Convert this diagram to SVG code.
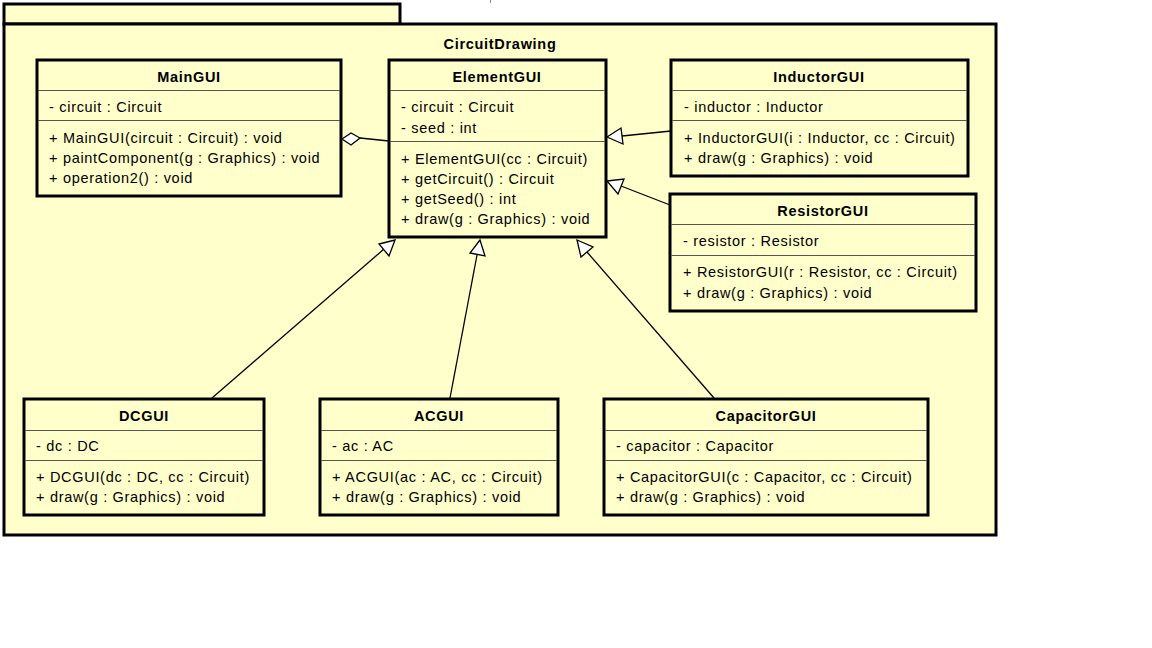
<svg xmlns="http://www.w3.org/2000/svg" width="1152" height="648" viewBox="0 0 1152 648">
<style>
.pkg{fill:#ffffcc;stroke:#000;stroke-width:3}
.box{fill:#ffffcc;stroke:#000;stroke-width:3}
.sep{stroke:#555;stroke-width:1;fill:none}
.t{font-family:"Liberation Sans",Arial,sans-serif;font-size:14.5px;letter-spacing:0.7px;fill:#000}
.b{font-weight:bold;text-anchor:middle}
.edge{stroke:#000;stroke-width:1.3;fill:none}
.head{fill:#fff;stroke:#000;stroke-width:1.3}
</style>
<rect width="1152" height="648" fill="#fff"/>
<line x1="490.5" y1="0" x2="490.5" y2="3" stroke="#888" stroke-width="1"/>
<g id="package">
<rect class="pkg" x="4" y="4" width="396" height="20"/>
<rect class="pkg" x="4" y="24" width="992" height="511"/>
<text class="t b" x="500" y="49">CircuitDrawing</text>
</g>
<g id="connectors">
<path class="edge" d="M360,138 L389,141"/>
<polygon class="head" points="342,139 351,133 360,138 351,145"/>
<path class="edge" d="M671,131 L622,136"/>
<polygon class="head" points="607,137 621,128 623,144"/>
<path class="edge" d="M670,205 L621,186"/>
<polygon class="head" points="607,181 624,179 618,194"/>
<path class="edge" d="M212,398 L384,249"/>
<polygon class="head" points="395,240 389,256 379,244"/>
<path class="edge" d="M450,398 L477,255"/>
<polygon class="head" points="480,240 485,256 470,253"/>
<path class="edge" d="M714,398 L587,252"/>
<polygon class="head" points="577,240 593,247 581,257"/>
</g>
<g id="MainGUI">
<rect class="box" x="37" y="60" width="304" height="136"/>
<line class="sep" x1="38" y1="90.5" x2="340" y2="90.5"/>
<line class="sep" x1="38" y1="120.5" x2="340" y2="120.5"/>
<text class="t b" x="189" y="82">MainGUI</text>
<text class="t" x="49" y="112">- circuit : Circuit</text>
<text class="t" x="49" y="143">+ MainGUI(circuit : Circuit) : void</text>
<text class="t" x="49" y="163">+ paintComponent(g : Graphics) : void</text>
<text class="t" x="49" y="183">+ operation2() : void</text>
</g>
<g id="ElementGUI">
<rect class="box" x="389" y="60" width="217" height="177"/>
<line class="sep" x1="390" y1="90.5" x2="605" y2="90.5"/>
<line class="sep" x1="390" y1="141.5" x2="605" y2="141.5"/>
<text class="t b" x="497" y="82">ElementGUI</text>
<text class="t" x="401" y="112">- circuit : Circuit</text>
<text class="t" x="401" y="133">- seed : int</text>
<text class="t" x="401" y="164">+ ElementGUI(cc : Circuit)</text>
<text class="t" x="401" y="184">+ getCircuit() : Circuit</text>
<text class="t" x="401" y="204">+ getSeed() : int</text>
<text class="t" x="401" y="224">+ draw(g : Graphics) : void</text>
</g>
<g id="InductorGUI">
<rect class="box" x="671" y="60" width="297" height="116"/>
<line class="sep" x1="672" y1="90.5" x2="967" y2="90.5"/>
<line class="sep" x1="672" y1="120.5" x2="967" y2="120.5"/>
<text class="t b" x="819" y="82">InductorGUI</text>
<text class="t" x="684" y="112">- inductor : Inductor</text>
<text class="t" x="684" y="143">+ InductorGUI(i : Inductor, cc : Circuit)</text>
<text class="t" x="684" y="163">+ draw(g : Graphics) : void</text>
</g>
<g id="ResistorGUI">
<rect class="box" x="670" y="194" width="306" height="117"/>
<line class="sep" x1="671" y1="224.5" x2="975" y2="224.5"/>
<line class="sep" x1="671" y1="255.5" x2="975" y2="255.5"/>
<text class="t b" x="823" y="216">ResistorGUI</text>
<text class="t" x="683" y="246">- resistor : Resistor</text>
<text class="t" x="683" y="277">+ ResistorGUI(r : Resistor, cc : Circuit)</text>
<text class="t" x="683" y="298">+ draw(g : Graphics) : void</text>
</g>
<g id="DCGUI">
<rect class="box" x="24" y="399" width="240" height="116"/>
<line class="sep" x1="25" y1="430.5" x2="263" y2="430.5"/>
<line class="sep" x1="25" y1="460.5" x2="263" y2="460.5"/>
<text class="t b" x="144" y="421">DCGUI</text>
<text class="t" x="36" y="451">- dc : DC</text>
<text class="t" x="36" y="482">+ DCGUI(dc : DC, cc : Circuit)</text>
<text class="t" x="36" y="502">+ draw(g : Graphics) : void</text>
</g>
<g id="ACGUI">
<rect class="box" x="320" y="399" width="238" height="116"/>
<line class="sep" x1="321" y1="430.5" x2="557" y2="430.5"/>
<line class="sep" x1="321" y1="460.5" x2="557" y2="460.5"/>
<text class="t b" x="439" y="421">ACGUI</text>
<text class="t" x="332" y="451">- ac : AC</text>
<text class="t" x="332" y="482">+ ACGUI(ac : AC, cc : Circuit)</text>
<text class="t" x="332" y="502">+ draw(g : Graphics) : void</text>
</g>
<g id="CapacitorGUI">
<rect class="box" x="604" y="399" width="324" height="116"/>
<line class="sep" x1="605" y1="430.5" x2="927" y2="430.5"/>
<line class="sep" x1="605" y1="460.5" x2="927" y2="460.5"/>
<text class="t b" x="766" y="421">CapacitorGUI</text>
<text class="t" x="616" y="451">- capacitor : Capacitor</text>
<text class="t" x="616" y="482">+ CapacitorGUI(c : Capacitor, cc : Circuit)</text>
<text class="t" x="616" y="502">+ draw(g : Graphics) : void</text>
</g>
</svg>
